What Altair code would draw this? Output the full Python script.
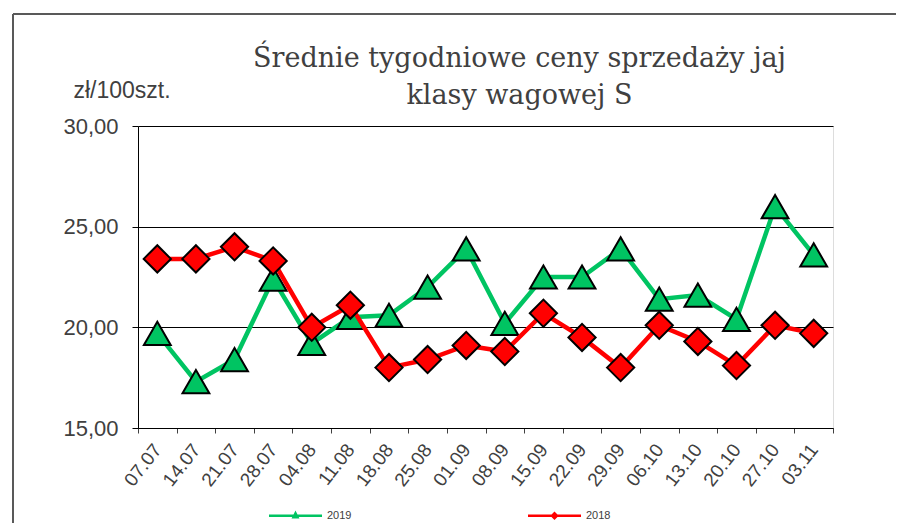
import altair as alt
import pandas as pd

weeks = ["07.07", "14.07", "21.07", "28.07", "04.08", "11.08", "18.08", "25.08", "01.09",
         "08.09", "15.09", "22.09", "29.09", "06.10", "13.10", "20.10", "27.10", "03.11"]
v2019 = [19.7, 17.3, 18.4, 22.4, 19.2, 20.5, 20.6, 22.0, 23.9,
         20.2, 22.5, 22.5, 23.9, 21.4, 21.6, 20.4, 26.0, 23.6]
v2018 = [23.4, 23.4, 24.0, 23.3, 20.0, 21.1, 18.0, 18.4, 19.1,
         18.8, 20.7, 19.5, 18.0, 20.1, 19.3, 18.1, 20.1, 19.7]
series_names = ["2019", "2018"]
y_ticks = [15, 20, 25, 30]

GREEN = "#00C462"
RED = "#FF0000"
TXT = "#404040"

df = pd.DataFrame({
    "week": weeks * 2,
    "value": v2019 + v2018,
    "series": ["2019"] * len(weeks) + ["2018"] * len(weeks),
})

W, H = 695, 302

x_enc = alt.X(
    "week:N", sort=weeks, bandPosition=0.5,
    scale=alt.Scale(type="band", domain=weeks, paddingInner=0, paddingOuter=0),
    axis=alt.Axis(title=None, tickBand="extent", labelAngle=-52, labelAlign="right",
                  labelBaseline="middle", labelFontSize=19, labelFont="Liberation Sans",
                  labelColor=TXT, labelPadding=13, tickSize=5, tickColor="#404040",
                  domainColor="#000000", grid=False, labelOverlap=False),
)
y_enc = alt.Y(
    "value:Q",
    scale=alt.Scale(domain=[15, 30], nice=False, zero=False),
    axis=alt.Axis(values=y_ticks, labelExpr="replace(format(datum.value, '.2f'), '.', ',')",
                  grid=True, gridColor="#000000", gridWidth=1, gridOpacity=1,
                  tickSize=6, tickColor="#000000", domainColor="#000000",
                  labelFontSize=22, labelFont="Liberation Sans", labelColor=TXT, labelPadding=14,
                  title="zł/100szt.", titleAngle=0, titleX=-65, titleY=-29,
                  titleAlign="left", titleBaseline="alphabetic", titleFontSize=23,
                  titleFont="Liberation Sans", titleFontWeight="normal", titleColor=TXT),
)

base = alt.Chart(df).encode(x=x_enc, y=y_enc)

line19 = base.transform_filter(alt.datum.series == "2019").mark_line(color=GREEN, strokeWidth=4.5)
pts19 = base.transform_filter(alt.datum.series == "2019").mark_point(
    shape="triangle-up", filled=True, fill=GREEN, stroke="black", strokeWidth=2,
    size=720, opacity=1)
line18 = base.transform_filter(alt.datum.series == "2018").mark_line(color=RED, strokeWidth=4.5)
pts18 = base.transform_filter(alt.datum.series == "2018").mark_point(
    shape="diamond", filled=True, fill=RED, stroke="black", strokeWidth=2,
    size=740, opacity=1)

path19 = "M-1,-0.05H1V0.05H-1ZM0,-0.2L0.15,0.1L-0.15,0.1Z"
path18 = "M-1,-0.05H1V0.05H-1ZM0,-0.16L0.16,0L0,0.16L-0.16,0Z"
leg = alt.Legend(title=None, orient="none", legendX=130, legendY=362, direction="horizontal",
                 symbolSize=2809, columnPadding=175, labelFontSize=11,
                 labelFont="Liberation Sans", labelColor=TXT, labelOffset=4)
legend_layer = alt.Chart(df).transform_filter("false").mark_point(filled=True, opacity=1).encode(
    x=x_enc, y=y_enc,
    color=alt.Color("series:N", scale=alt.Scale(domain=series_names, range=[GREEN, RED]), legend=leg),
    shape=alt.Shape("series:N", scale=alt.Scale(domain=series_names, range=[path19, path18]), legend=leg),
)

frame_data = alt.Data(values=[{"k": 1}])
frame_left = alt.Chart(frame_data).mark_rule(color="#595959", strokeWidth=2).encode(
    x=alt.value(-125), y=alt.value(-112), y2=alt.value(420))
frame_top = alt.Chart(frame_data).mark_rule(color="#595959", strokeWidth=2).encode(
    x=alt.value(-125), x2=alt.value(770), y=alt.value(-112))

chart = alt.layer(frame_left, frame_top, line19, pts19, line18, pts18, legend_layer).properties(
    width=W, height=H,
    title=alt.TitleParams(
        text=["Średnie tygodniowe ceny sprzedaży jaj", "klasy wagowej S"],
        font="DejaVu Serif", fontSize=27, fontWeight="normal", color=TXT,
        anchor="middle", frame="group", dx=34, dy=103, lineHeight=37, offset=6),
    autosize=alt.AutoSizeParams(type="none"),
    padding={"left": 130, "top": 118, "right": 63, "bottom": 95},
).configure_view(stroke="#000000", strokeWidth=1).configure(background="white")

chart.save("out.html", embed_options={"renderer": "svg", "actions": False})
